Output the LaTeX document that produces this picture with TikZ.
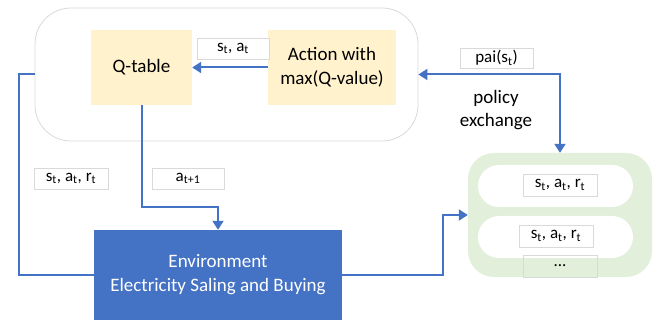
\documentclass[tikz,border=0pt]{standalone}
\usepackage{fontspec}
\setmainfont{Carlito}
\usetikzlibrary{arrows.meta}
\definecolor{lnblue}{HTML}{4472C4}
\definecolor{envblue}{HTML}{4472C4}
\definecolor{qyellow}{HTML}{FFF2CC}
\definecolor{pgreen}{HTML}{E2EFDA}
\definecolor{lgray}{HTML}{D9D9D9}
\tikzset{
  box/.style={draw=none, fill=qyellow, align=center, font=\fontsize{19}{24}\selectfont, inner sep=0pt},
  lbl/.style={draw=lgray, line width=0.6pt, fill=white, font=\fontsize{17}{18}\selectfont, inner sep=0pt, minimum height=21pt},
  conn/.style={draw=lnblue, line width=2pt},
  arr/.style={conn, -{Triangle[length=9pt,width=11pt]}},
  darr/.style={conn, {Triangle[length=9pt,width=11pt]}-{Triangle[length=9pt,width=11pt]}},
}
\begin{document}
\begin{tikzpicture}[x=1pt,y=-1pt]
\useasboundingbox (0,0) rectangle (659,320);
% outer container
\node[draw=lgray, line width=0.8pt, fill=white, rounded corners=36pt, minimum width=383pt, minimum height=133pt, inner sep=0pt] (outer) at (226.5,74.5) {};
\node[box, minimum width=101pt, minimum height=75pt] (qt) at (141.5,67.5) {Q-table};
\node[box, minimum width=128pt, minimum height=75pt] (act) at (332,67.5) {Action with\\max(Q-value)};
\node[lbl, minimum width=72pt] (lsa) at (233,48.5) {s\textsubscript{t}, a\textsubscript{t}};
% policy exchange
\node[lbl, minimum width=73pt, minimum height=20pt] (lpai) at (496.5,58) {pai(s\textsubscript{t})};
\node[align=center, font=\fontsize{19}{23}\selectfont, inner sep=0pt] (pex) at (496,110.5) {policy\\exchange};
% environment
\node[fill=envblue, text=white, align=center, font=\fontsize{19}{24}\selectfont, minimum width=248pt, minimum height=90pt, inner sep=0pt] (env) at (218,275) {Environment\\Electricity Saling and Buying};
\node[lbl, minimum width=74pt] (lsar) at (71,178.5) {s\textsubscript{t}, a\textsubscript{t}, r\textsubscript{t}};
\node[lbl, minimum width=72pt] (lat) at (188,178.5) {a\textsubscript{t+1}};
% replay buffer
\node[fill=pgreen, rounded corners=26pt, minimum width=184pt, minimum height=124pt, inner sep=0pt] (green) at (560,215) {};
\node[fill=white, rounded corners=21pt, minimum width=155pt, minimum height=42pt, inner sep=0pt] (p1) at (555.5,186) {};
\node[fill=white, rounded corners=21pt, minimum width=155pt, minimum height=42pt, inner sep=0pt] (p2) at (555.5,237) {};
\node[lbl, minimum width=74pt, minimum height=22pt] (lb1) at (560,185) {s\textsubscript{t}, a\textsubscript{t}, r\textsubscript{t}};
\node[lbl, minimum width=74pt, minimum height=22pt] (lb2) at (556,236) {s\textsubscript{t}, a\textsubscript{t}, r\textsubscript{t}};
\node[lbl, fill=none, minimum width=74pt, minimum height=22pt] (lb3) at (560,266) {...};
% connectors
\draw[arr] (act.west) -- (qt.east);
\draw[conn] (outer.west) -- ++(-16,0) |- (env.west);
\draw[arr] (qt.south) -- ++(0,102) -| (env.north);
\draw[darr] (outer.east) -| (green.north);
\draw[arr] (env.east) -- ++(101,0) |- (green.west);
\end{tikzpicture}
\end{document}
